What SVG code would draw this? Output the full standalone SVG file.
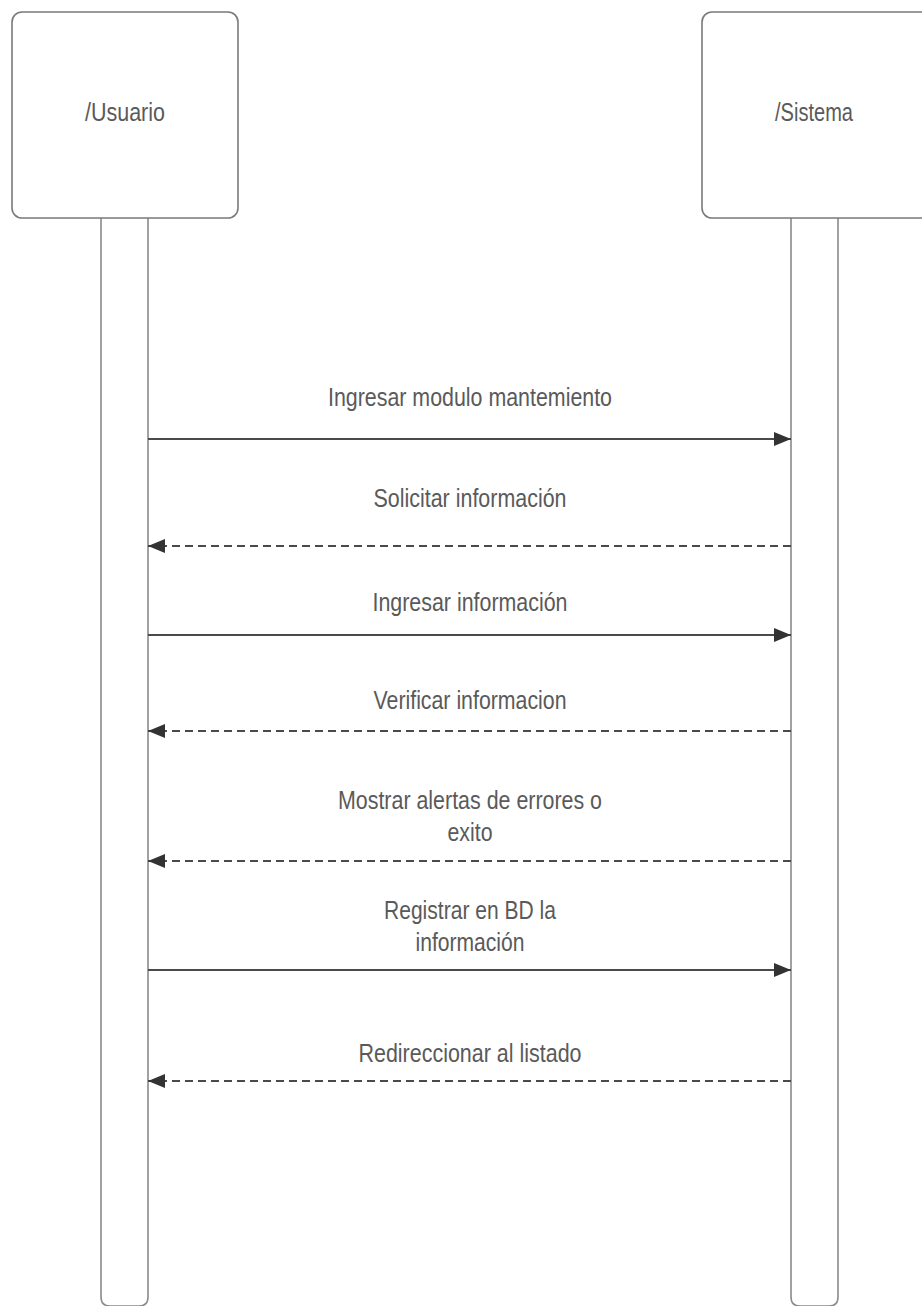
<svg xmlns="http://www.w3.org/2000/svg" width="922" height="1306" viewBox="0 0 922 1306">
  <style>
    .box { fill: #ffffff; stroke: #7a7a7a; stroke-width: 1.6; }
    .life { fill: #ffffff; stroke: #8a8a8a; stroke-width: 1.6; }
    .lbl { font-family: "Liberation Sans", Arial, sans-serif; font-size: 25px; fill: #5a5a5a; text-anchor: middle; }
    .msg { stroke: #4a4a4a; stroke-width: 2; fill: none; }
    .dash { stroke-dasharray: 8 5; }
  </style>
  <defs>
    <marker id="head" viewBox="0 0 17 14" refX="17" refY="7" markerWidth="17" markerHeight="14" markerUnits="userSpaceOnUse" orient="auto">
      <path d="M0,0 L17,7 L0,14 Z" fill="#333333"/>
    </marker>
  </defs>
  <rect width="922" height="1306" fill="#ffffff"/>

  <!-- Participant: Usuario -->
  <g id="usuario">
    <path class="life" d="M101,218 V1297 Q101,1306 110,1306 H139 Q148,1306 148,1297 V218"/>
    <rect class="box" x="12" y="12" width="226" height="206" rx="10" ry="10"/>
    <text class="lbl" x="125" y="121" textLength="80" lengthAdjust="spacingAndGlyphs">/Usuario</text>
  </g>

  <!-- Participant: Sistema -->
  <g id="sistema">
    <path class="life" d="M791,218 V1297 Q791,1306 800,1306 H829 Q838,1306 838,1297 V218"/>
    <rect class="box" x="702" y="12" width="230" height="206" rx="10" ry="10"/>
    <text class="lbl" x="814" y="121" textLength="78" lengthAdjust="spacingAndGlyphs">/Sistema</text>
  </g>

  <!-- Messages -->
  <g id="connectors">
    <line class="msg" x1="148" y1="439" x2="791" y2="439" marker-end="url(#head)"/>
    <line class="msg dash" x1="791" y1="546" x2="148" y2="546" marker-end="url(#head)"/>
    <line class="msg" x1="148" y1="635" x2="791" y2="635" marker-end="url(#head)"/>
    <line class="msg dash" x1="791" y1="731" x2="148" y2="731" marker-end="url(#head)"/>
    <line class="msg dash" x1="791" y1="861" x2="148" y2="861" marker-end="url(#head)"/>
    <line class="msg" x1="148" y1="970" x2="791" y2="970" marker-end="url(#head)"/>
    <line class="msg dash" x1="791" y1="1081" x2="148" y2="1081" marker-end="url(#head)"/>
  </g>

  <g id="labels">
    <text class="lbl" x="470" y="406" textLength="284" lengthAdjust="spacingAndGlyphs">Ingresar modulo mantemiento</text>
    <text class="lbl" x="470" y="507" textLength="193" lengthAdjust="spacingAndGlyphs">Solicitar información</text>
    <text class="lbl" x="470" y="611" textLength="195" lengthAdjust="spacingAndGlyphs">Ingresar información</text>
    <text class="lbl" x="470" y="709" textLength="193" lengthAdjust="spacingAndGlyphs">Verificar informacion</text>
    <text class="lbl" x="470" y="809" textLength="264" lengthAdjust="spacingAndGlyphs">Mostrar alertas de errores o</text>
    <text class="lbl" x="470" y="841" textLength="45" lengthAdjust="spacingAndGlyphs">exito</text>
    <text class="lbl" x="470" y="919" textLength="172" lengthAdjust="spacingAndGlyphs">Registrar en BD la</text>
    <text class="lbl" x="470" y="951" textLength="109" lengthAdjust="spacingAndGlyphs">información</text>
    <text class="lbl" x="470" y="1062" textLength="223" lengthAdjust="spacingAndGlyphs">Redireccionar al listado</text>
  </g>
</svg>
